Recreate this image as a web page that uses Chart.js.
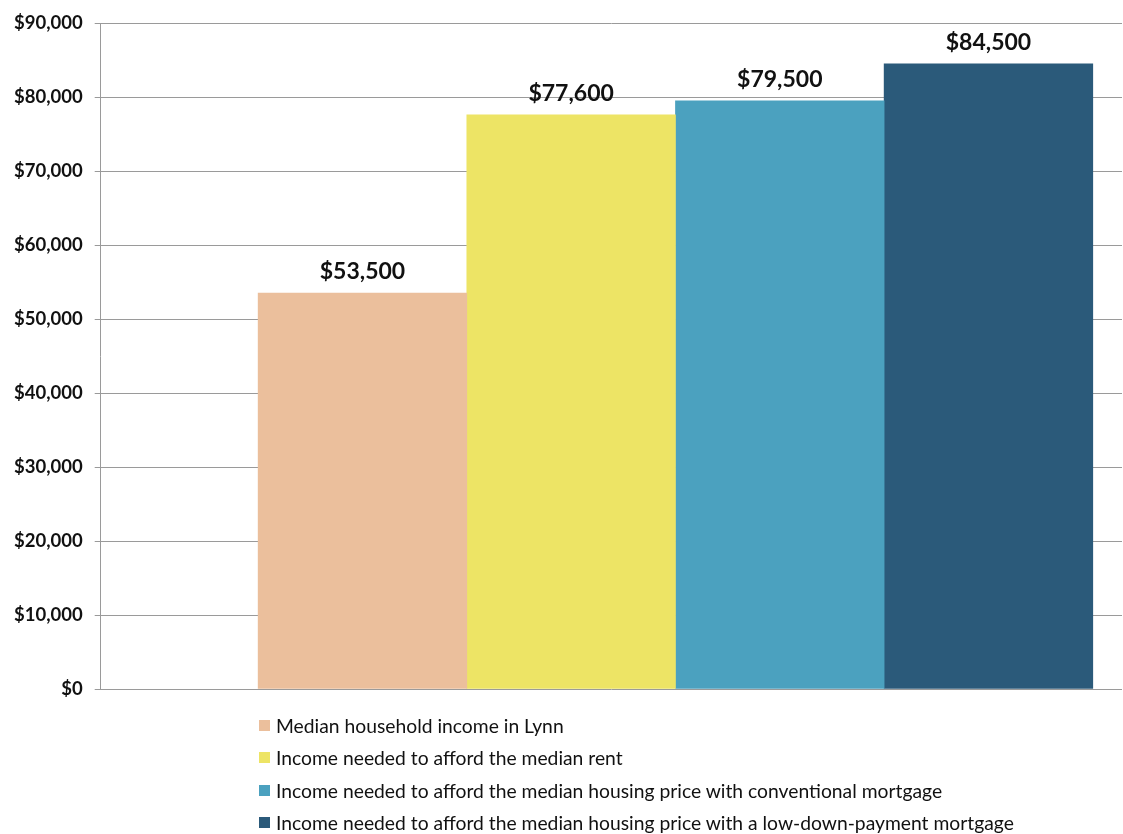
<!DOCTYPE html>
<html>
<head>
<meta charset="utf-8">
<script src="https://cdn.jsdelivr.net/npm/chart.js@4.4.1/dist/chart.umd.min.js"></script>
<style>
  html, body { margin: 0; padding: 0; background: #fff; }
  #wrap { position: relative; width: 1123px; height: 834px; }
  #legend { position: absolute; left: 259px; top: 709px; font-family: Lato, sans-serif; font-size: 19.3px; color: #111; }
  #legend div { display: flex; align-items: center; height: 32.5px; }
  #legend span.box { display: inline-block; width: 11px; height: 11px; margin-right: 6px; }
</style>
</head>
<body>
<div id="wrap">
  <canvas id="myChart" width="1123" height="834"></canvas>
  <div id="legend"></div>
</div>
<script>
// Chart data
const categories = [
    'Median household income in Lynn',
    'Income needed to afford the median rent',
    'Income needed to afford the median housing price with conventional mortgage',
    'Income needed to afford the median housing price with a low-down-payment mortgage'
];
const incomeValues = [53500, 77600, 79500, 84500];
const barColors = ['#EBBF9C', '#EDE465', '#4BA1BF', '#2B5A7A'];
const yTickMin = 0;
const yTickMax = 90000;
const yTickStep = 10000;

const money = v => '$' + v.toLocaleString('en-US');

// Draw the value above each bar
const valueLabels = {
    id: 'valueLabels',
    afterDatasetsDraw(chart) {
        const c = chart.ctx;
        c.save();
        c.font = 'bold 23px Lato, sans-serif';
        c.fillStyle = '#111';
        c.textAlign = 'center';
        c.textBaseline = 'bottom';
        chart.data.datasets.forEach((ds, i) => {
            const bar = chart.getDatasetMeta(i).data[0];
            c.fillText(money(ds.data[0].y), bar.x, bar.y - 10);
        });
        c.restore();
    }
};

const ctx = document.getElementById('myChart').getContext('2d');

const myChart = new Chart(ctx, {
    type: 'bar',
    data: {
        datasets: categories.map((label, i) => ({
            label: label,
            data: [{ x: i, y: incomeValues[i] }],
            backgroundColor: barColors[i],
            borderWidth: 0,
            grouped: false,
            barPercentage: 1,
            categoryPercentage: 1
        }))
    },
    options: {
        responsive: false,
        animation: false,
        layout: { padding: { left: 2, right: 1, top: 22, bottom: 145 } },
        plugins: {
            legend: { display: false },
            tooltip: { enabled: false }
        },
        scales: {
            x: {
                type: 'linear',
                display: false,
                offset: false,
                min: -1.2545,
                max: 3.64,
                afterBuildTicks: scale => {
                    scale.ticks = incomeValues.map((v, i) => ({ value: i }));
                }
            },
            y: {
                min: yTickMin,
                max: yTickMax,
                ticks: {
                    stepSize: yTickStep,
                    padding: 12,
                    color: '#111',
                    font: { family: 'Lato, sans-serif', size: 18.5, weight: 'bold' },
                    callback: v => money(v)
                },
                grid: { color: '#9a9a9a', tickLength: 6, lineWidth: 1 },
                border: { color: '#9a9a9a' }
            }
        }
    },
    plugins: [valueLabels]
});

// Legend as HTML, one line per dataset
const legendBox = document.getElementById('legend');
myChart.data.datasets.forEach(ds => {
    const row = document.createElement('div');
    const box = document.createElement('span');
    box.className = 'box';
    box.style.background = ds.backgroundColor;
    row.appendChild(box);
    row.appendChild(document.createTextNode(ds.label));
    legendBox.appendChild(row);
});
</script>
</body>
</html>
